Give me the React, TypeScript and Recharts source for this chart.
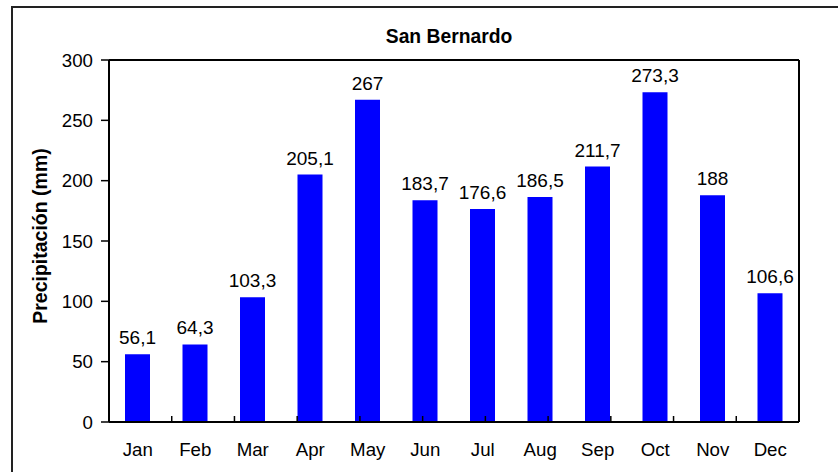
import { Bar, BarChart, LabelList, XAxis, YAxis } from "recharts";

const months = ["Jan", "Feb", "Mar", "Apr", "May", "Jun", "Jul", "Aug", "Sep", "Oct", "Nov", "Dec"];
const precipitation = [56.1, 64.3, 103.3, 205.1, 267, 183.7, 176.6, 186.5, 211.7, 273.3, 188, 106.6];
const yTicks = [0, 50, 100, 150, 200, 250, 300];
// tick marks between categories (Excel style)
const dividerTicks = [1, 2, 3, 4, 5, 6, 7, 8, 9, 10, 11];

const FONT = '"Liberation Sans", Arial, sans-serif';

const data = months.map((month, i) => ({ month, value: precipitation[i] }));

const formatValue = (v: unknown) => String(v).replace(".", ",");

export default function App() {
  return (
    <div
      style={{
        position: "absolute",
        left: 0,
        top: 0,
        width: 838,
        height: 472,
        overflow: "hidden",
        background: "#fff",
        fontFamily: FONT,
      }}
    >
      <div
        style={{
          position: "absolute",
          left: 11,
          top: 6,
          width: 900,
          height: 520,
          border: "2px solid #222",
          boxSizing: "border-box",
        }}
      />
      <svg width={838} height={60} style={{ position: "absolute", left: 0, top: 0 }}>
        <text x={449} y={43} textAnchor="middle" fontFamily={FONT} fontWeight="bold" fontSize={19.3} fill="#000">
          San Bernardo
        </text>
      </svg>
      <div style={{ position: "absolute", left: 0, top: 0 }}>
        <BarChart
          width={838}
          height={472}
          data={data}
          margin={{ top: 59, right: 38, bottom: 10, left: 34 }}
          barSize={25}
        >
          <XAxis
            dataKey="month"
            height={40}
            tickLine={false}
            tickSize={8}
            tickMargin={13}
            axisLine={{ stroke: "#000", strokeWidth: 2 }}
            tick={{ fill: "#000", fontSize: 18.7, fontFamily: FONT }}
            interval={0}
          />
          <XAxis
            xAxisId="dividers"
            type="number"
            domain={[0, 12]}
            ticks={dividerTicks}
            interval={0}
            mirror
            height={1}
            tickFormatter={() => ""}
            axisLine={false}
            tickSize={6}
            tickLine={{ stroke: "#000", strokeWidth: 1.5 }}
          />
          <XAxis
            xAxisId="top"
            orientation="top"
            height={1}
            tick={false}
            tickLine={false}
            axisLine={{ stroke: "#000", strokeWidth: 2 }}
          />
          <YAxis
            width={75}
            domain={[0, 300]}
            ticks={yTicks}
            interval={0}
            tickSize={8}
            tickMargin={8}
            axisLine={{ stroke: "#000", strokeWidth: 2 }}
            tickLine={{ stroke: "#000", strokeWidth: 1.5 }}
            tick={{ fill: "#000", fontSize: 18.7, fontFamily: FONT }}
            label={{
              value: "Precipitación (mm)",
              angle: -90,
              position: "insideLeft",
              offset: 6,
              dy: -5,
              fill: "#000",
              fontSize: 19.5,
              fontWeight: "bold",
              fontFamily: FONT,
              style: { textAnchor: "middle" },
            }}
          />
          <YAxis
            yAxisId="right"
            orientation="right"
            width={1}
            domain={[0, 300]}
            tick={false}
            tickLine={false}
            axisLine={{ stroke: "#000", strokeWidth: 2 }}
          />
          <Bar dataKey="value" fill="#0000ff" isAnimationActive={false}>
            <LabelList
              dataKey="value"
              position="top"
              offset={10}
              formatter={formatValue}
              fill="#000"
              fontSize={19}
              fontFamily={FONT}
            />
          </Bar>
        </BarChart>
      </div>
    </div>
  );
}
